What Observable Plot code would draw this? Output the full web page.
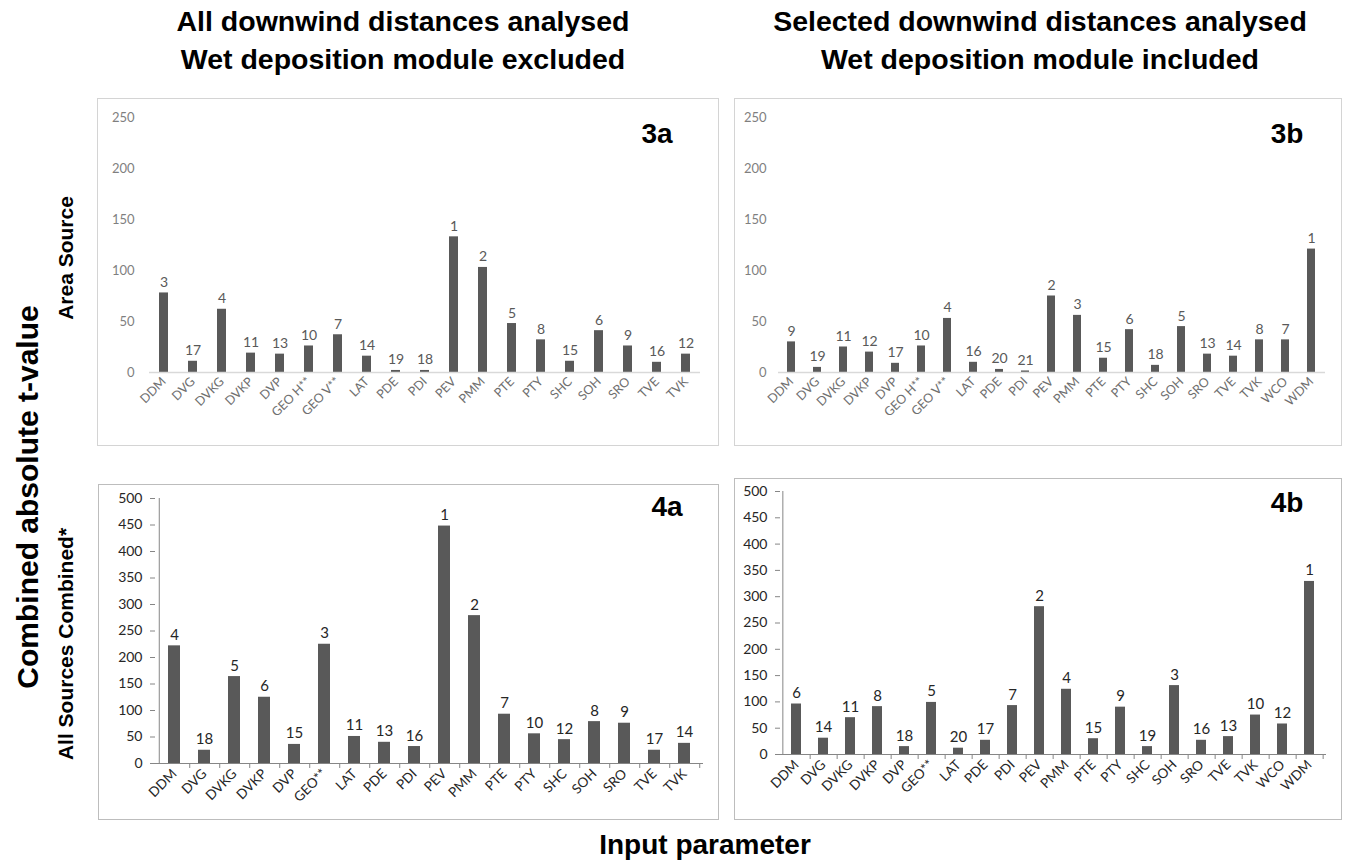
<!DOCTYPE html>
<html><head><meta charset="utf-8">
<script src="https://cdn.jsdelivr.net/npm/d3@7"></script>
<script src="https://cdn.jsdelivr.net/npm/@observablehq/plot@0.6"></script>
<style>
body{margin:0;background:#fff;width:1372px;height:863px;position:relative;overflow:hidden;font-family:"Liberation Sans",Arial,sans-serif}
.title{position:absolute;font-weight:bold;font-size:28.5px;text-align:center;line-height:38px;color:#000;white-space:nowrap;transform:translateX(-50%)}
.panel{position:absolute;outline:1.5px solid #d4d4d4;outline-offset:-1px;background:#fff}
.panel.dark{outline-color:#bdbdbd}
.panel svg{position:absolute;left:0;top:0}
.tag{position:absolute;font-weight:bold;font-size:28px;color:#000;transform:translate(-50%,-50%);font-family:"Liberation Sans Narrow","Liberation Sans",Arial,sans-serif}
.vlab{position:absolute;white-space:nowrap;transform:translate(-50%,-50%) rotate(-90deg);color:#000;font-weight:bold}
</style></head>
<body>
<div class="title" style="left:403px;top:2px">All downwind distances analysed<br>Wet deposition module excluded</div>
<div class="title" style="left:1040px;top:2px">Selected downwind distances analysed<br>Wet deposition module included</div>
<div class="vlab" style="left:28px;top:497px;font-size:30px">Combined absolute t-value</div>
<div class="vlab" style="left:66px;top:258px;font-size:21px">Area Source</div>
<div class="vlab" style="left:66px;top:644px;font-size:21px">All Sources Combined*</div>
<div id="p3a" class="panel" style="left:97px;top:98px;width:622px;height:348px"></div>
<div id="p3b" class="panel" style="left:734px;top:98px;width:608px;height:348px"></div>
<div id="p4a" class="panel dark" style="left:98px;top:484px;width:621px;height:336px"></div>
<div id="p4b" class="panel dark" style="left:734px;top:478px;width:608px;height:342px"></div>
<div class="tag" style="left:657px;top:134px">3a</div>
<div class="tag" style="left:1287px;top:134px">3b</div>
<div class="tag" style="left:667px;top:507px">4a</div>
<div class="tag" style="left:1287px;top:503px">4b</div>
<div style="position:absolute;left:705px;top:845px;transform:translate(-50%,-50%);font-family:'Liberation Sans Narrow','Liberation Sans',Arial,sans-serif;font-weight:bold;font-size:28px;white-space:nowrap">Input parameter</div>
<script>
// ---- data ----
const cats3a = ["DDM","DVG","DVKG","DVKP","DVP","GEO H**","GEO V**","LAT","PDE","PDI","PEV","PMM","PTE","PTY","SHC","SOH","SRO","TVE","TVK"];
const vals3a = [78,11,62,19,18,26,37,16,2,2,133,103,48,32,11,41,26,10,18];
const ranks3a = [3,17,4,11,13,10,7,14,19,18,1,2,5,8,15,6,9,16,12];

const cats3b = ["DDM","DVG","DVKG","DVKP","DVP","GEO H**","GEO V**","LAT","PDE","PDI","PEV","PMM","PTE","PTY","SHC","SOH","SRO","TVE","TVK","WCO","WDM"];
const vals3b = [30,5,25,20,9,26,53,10,3,1.5,75,56,14,42,7,45,18,16,32,32,121];
const ranks3b = [9,19,11,12,17,10,4,16,20,21,2,3,15,6,18,5,13,14,8,7,1];

const cats4a = ["DDM","DVG","DVKG","DVKP","DVP","GEO**","LAT","PDE","PDI","PEV","PMM","PTE","PTY","SHC","SOH","SRO","TVE","TVK"];
const vals4a = [222,25,164,125,36,225,51,40,32,448,279,93,56,45,79,76,25,38];
const ranks4a = [4,18,5,6,15,3,11,13,16,1,2,7,10,12,8,9,17,14];

const cats4b = ["DDM","DVG","DVKG","DVKP","DVP","GEO**","LAT","PDE","PDI","PEV","PMM","PTE","PTY","SHC","SOH","SRO","TVE","TVK","WCO","WDM"];
const vals4b = [96,31,70,91,15,99,12,27,93,281,124,30,90,15,131,27,34,75,58,329];
const ranks4b = [6,14,11,8,18,5,20,17,7,2,4,15,9,19,3,16,13,10,12,1];

const ticks250 = [0,50,100,150,200,250];
const ticks500 = [0,50,100,150,200,250,300,350,400,450,500];

function panel(cfg) {
  const {cats, vals, ranks, yTicks, width, height, m, pad, big} = cfg;
  const data = cats.map((c, i) => ({param: c, value: vals[i], rank: ranks[i]}));
  const step = (width - m.l - m.r) / cats.length;
  const yMax = d3.max(yTicks);
  const axisCol = "#868686";
  const marks = [];
  if (big) {
    marks.push(Plot.axisX({ticks: cats, tickSize: 5, tickFormat: () => "", dx: step / 2, stroke: axisCol, label: null}));
    marks.push(Plot.ruleX([cats[0]], {dx: -step / 2, y1: 0, y2: yMax, stroke: axisCol}));
  }
  marks.push(Plot.barY(data, {x: "param", y: "value", fill: "#595959"}));
  marks.push(Plot.ruleY([0], {stroke: big ? axisCol : "#d9d9d9", strokeWidth: big ? 1 : 1.5}));
  marks.push(Plot.text(data, {x: "param", y: "value", text: d => String(d.rank), dy: -6, lineAnchor: "bottom",
    fill: big ? "#262626" : "#595959", fontSize: big ? 15 : 14}));
  marks.push(Plot.axisY({ticks: yTicks, tickSize: big ? 5 : 0, tickPadding: big ? 8 : cfg.yPad, tickFormat: d => String(d),
    stroke: axisCol, fill: big ? "#262626" : "#7f7f7f", fontSize: big ? 14 : 13, label: null}));
  marks.push(Plot.axisX({tickSize: 0, tickRotate: -45, tickPadding: big ? 8 : 7, fill: big ? "#262626" : "#6f6f6f",
    fontSize: big ? 13.5 : 12.5, label: null}));
  return Plot.plot({
    width, height, marginTop: m.t, marginRight: m.r, marginBottom: m.b, marginLeft: m.l,
    x: {domain: cats, paddingInner: pad, paddingOuter: pad / 2, label: null},
    y: {domain: [0, yMax], label: null},
    style: {fontFamily: "Lato, 'Open Sans', sans-serif", background: "transparent", overflow: "visible"},
    marks
  });
}

document.getElementById("p3a").append(panel({cats: cats3a, vals: vals3a, ranks: ranks3a, yTicks: ticks250,
  width: 622, height: 348, m: {t: 19, r: 19, b: 74, l: 52}, pad: 0.68, big: false, yPad: 15}));
document.getElementById("p3b").append(panel({cats: cats3b, vals: vals3b, ranks: ranks3b, yTicks: ticks250,
  width: 608, height: 348, m: {t: 19, r: 17, b: 74, l: 44}, pad: 0.68, big: false, yPad: 12}));
document.getElementById("p4a").append(panel({cats: cats4a, vals: vals4a, ranks: ranks4a, yTicks: ticks500,
  width: 621, height: 336, m: {t: 14, r: 16, b: 57, l: 57}, pad: 0.615, big: true}));
document.getElementById("p4b").append(panel({cats: cats4b, vals: vals4b, ranks: ranks4b, yTicks: ticks500,
  width: 608, height: 342, m: {t: 13, r: 16, b: 66, l: 46}, pad: 0.62, big: true}));
</script>
</body></html>
